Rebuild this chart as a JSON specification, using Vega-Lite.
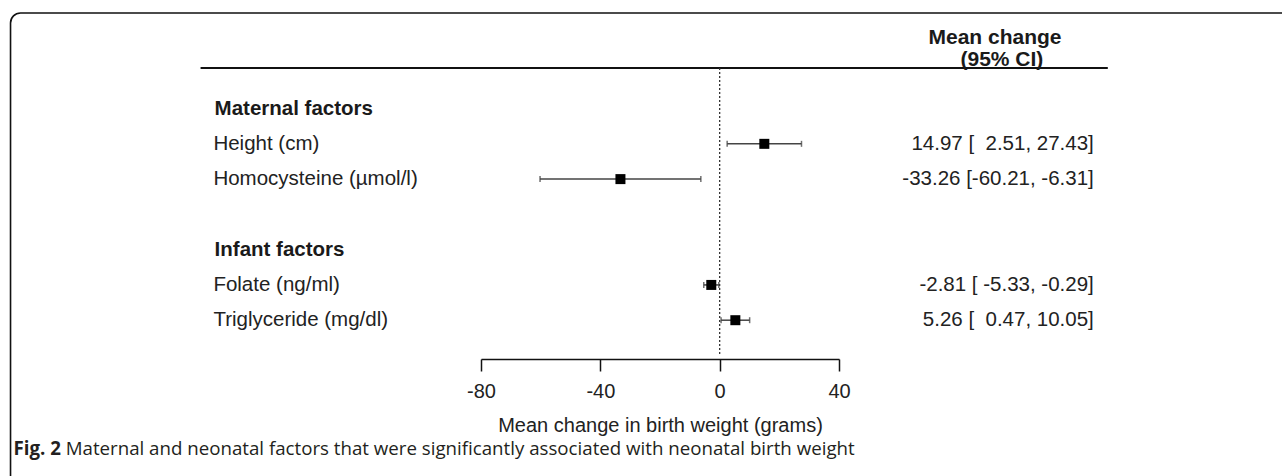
{
  "$schema": "https://vega.github.io/schema/vega-lite/v6.json",
  "autosize": {"type": "none"},
  "width": 358,
  "height": 291,
  "padding": {"left": 481, "top": 68, "right": 443, "bottom": 117},
  "background": "white",
  "config": {
    "view": {"stroke": null},
    "font": "Liberation Sans",
    "axisX": {"grid": false, "domain": true, "domainColor": "#111", "domainWidth": 1.5, "ticks": true, "tickColor": "#111", "tickWidth": 1.5, "tickSize": 12, "labelFlush": false, "labelOverlap": false, "labelFont": "Liberation Sans", "labelFontSize": 20, "labelColor": "#222", "labelPadding": 10, "titleFont": "Liberation Sans", "titleFontSize": 20, "titleFontWeight": "normal", "titleColor": "#222", "titlePadding": 14},
    "axisY": {"disable": true}
  },
  "datasets": {
    "rows": [
      {"row": 1, "label": "Maternal factors", "kind": "heading"},
      {"row": 2, "label": "Height (cm)", "kind": "item", "est": 14.97, "lo": 2.51, "hi": 27.43, "ci": "14.97 [\u00a0 2.51, 27.43]"},
      {"row": 3, "label": "Homocysteine (µmol/l)", "kind": "item", "est": -33.26, "lo": -60.21, "hi": -6.31, "ci": "-33.26 [-60.21, -6.31]"},
      {"row": 5, "label": "Infant factors", "kind": "heading"},
      {"row": 6, "label": "Folate (ng/ml)", "kind": "item", "est": -2.81, "lo": -5.33, "hi": -0.29, "ci": "-2.81 [ -5.33, -0.29]"},
      {"row": 7, "label": "Triglyceride (mg/dl)", "kind": "item", "est": 5.26, "lo": 0.47, "hi": 10.05, "ci": "5.26 [\u00a0 0.47, 10.05]"}
    ],
    "decor": [{"part": "frame"}]
  },
  "layer": [
    {
      "data": {"name": "decor"},
      "mark": {"type": "rect", "filled": false, "color": "#111", "strokeWidth": 1.6, "cornerRadius": 10, "clip": false},
      "encoding": {
        "x": {"datum": -237.7, "type": "quantitative", "scale": {"domain": [-80, 40], "nice": false, "zero": false}, "axis": {"values": [-80, -40, 0, 40], "labelExpr": "'' + datum.value", "title": "Mean change in birth weight (grams)"}},
        "x2": {"datum": 260},
        "y": {"datum": -1.709, "type": "quantitative", "scale": {"domain": [-0.15, 8.1], "nice": false, "zero": false, "reverse": true}},
        "y2": {"datum": 20}
      }
    },
    {
      "data": {"name": "decor"},
      "mark": {"type": "rule", "color": "#111", "strokeWidth": 1.8, "clip": false},
      "encoding": {
        "x": {"datum": -174, "type": "quantitative", "scale": {"domain": [-80, 40], "nice": false, "zero": false}, "axis": {"values": [-80, -40, 0, 40], "labelExpr": "'' + datum.value", "title": "Mean change in birth weight (grams)"}},
        "x2": {"datum": 130.1},
        "y": {"datum": -0.15, "type": "quantitative", "scale": {"domain": [-0.15, 8.1], "nice": false, "zero": false, "reverse": true}}
      }
    },
    {
      "data": {"name": "decor"},
      "mark": {"type": "rule", "color": "#333", "strokeWidth": 1.3, "strokeDash": [2, 2], "clip": false},
      "encoding": {
        "x": {"datum": 0, "type": "quantitative", "scale": {"domain": [-80, 40], "nice": false, "zero": false}, "axis": {"values": [-80, -40, 0, 40], "labelExpr": "'' + datum.value", "title": "Mean change in birth weight (grams)"}},
        "y": {"datum": -0.15, "type": "quantitative", "scale": {"domain": [-0.15, 8.1], "nice": false, "zero": false, "reverse": true}},
        "y2": {"datum": 7.98}
      }
    },
    {
      "data": {"name": "rows"},
      "transform": [{"filter": "datum.kind === 'item'"}],
      "mark": {"type": "errorbar", "color": "#444", "thickness": 1.5, "ticks": {"size": 6, "thickness": 1.5, "color": "#333"}, "clip": false},
      "encoding": {
        "x": {"field": "lo", "type": "quantitative", "scale": {"domain": [-80, 40], "nice": false, "zero": false}, "axis": {"values": [-80, -40, 0, 40], "labelExpr": "'' + datum.value", "title": "Mean change in birth weight (grams)"}},
        "x2": {"field": "hi"},
        "y": {"field": "row", "type": "quantitative", "scale": {"domain": [-0.15, 8.1], "nice": false, "zero": false, "reverse": true}}
      }
    },
    {
      "data": {"name": "rows"},
      "transform": [{"filter": "datum.kind === 'item'"}],
      "mark": {"type": "point", "shape": "square", "filled": true, "size": 100, "color": "#000", "opacity": 1, "clip": false},
      "encoding": {
        "x": {"field": "est", "type": "quantitative", "scale": {"domain": [-80, 40], "nice": false, "zero": false}, "axis": {"values": [-80, -40, 0, 40], "labelExpr": "'' + datum.value", "title": "Mean change in birth weight (grams)"}},
        "y": {"field": "row", "type": "quantitative", "scale": {"domain": [-0.15, 8.1], "nice": false, "zero": false, "reverse": true}}
      }
    },
    {
      "data": {"name": "rows"},
      "transform": [{"filter": "datum.kind === 'item'"}],
      "mark": {"type": "text", "align": "left", "baseline": "middle", "font": "Liberation Sans", "fontSize": 20.5, "color": "#222", "clip": false},
      "encoding": {
        "x": {"datum": -169.7, "type": "quantitative", "scale": {"domain": [-80, 40], "nice": false, "zero": false}, "axis": {"values": [-80, -40, 0, 40], "labelExpr": "'' + datum.value", "title": "Mean change in birth weight (grams)"}},
        "y": {"field": "row", "type": "quantitative", "scale": {"domain": [-0.15, 8.1], "nice": false, "zero": false, "reverse": true}},
        "text": {"field": "label"}
      }
    },
    {
      "data": {"name": "rows"},
      "transform": [{"filter": "datum.kind === 'heading'"}],
      "mark": {"type": "text", "align": "left", "baseline": "middle", "font": "Liberation Sans", "fontSize": 20.5, "fontWeight": "bold", "color": "#1a1a1a", "clip": false},
      "encoding": {
        "x": {"datum": -169.3, "type": "quantitative", "scale": {"domain": [-80, 40], "nice": false, "zero": false}, "axis": {"values": [-80, -40, 0, 40], "labelExpr": "'' + datum.value", "title": "Mean change in birth weight (grams)"}},
        "y": {"field": "row", "type": "quantitative", "scale": {"domain": [-0.15, 8.1], "nice": false, "zero": false, "reverse": true}},
        "text": {"field": "label"}
      }
    },
    {
      "data": {"name": "rows"},
      "transform": [{"filter": "datum.kind === 'item'"}],
      "mark": {"type": "text", "align": "right", "baseline": "middle", "font": "Liberation Sans", "fontSize": 20.5, "color": "#222", "clip": false},
      "encoding": {
        "x": {"datum": 125.4, "type": "quantitative", "scale": {"domain": [-80, 40], "nice": false, "zero": false}, "axis": {"values": [-80, -40, 0, 40], "labelExpr": "'' + datum.value", "title": "Mean change in birth weight (grams)"}},
        "y": {"field": "row", "type": "quantitative", "scale": {"domain": [-0.15, 8.1], "nice": false, "zero": false, "reverse": true}},
        "text": {"field": "ci"}
      }
    },
    {
      "data": {"name": "decor"},
      "mark": {"type": "text", "align": "center", "baseline": "middle", "font": "Liberation Sans", "fontSize": 21, "fontWeight": "bold", "color": "#1a1a1a", "clip": false},
      "encoding": {
        "x": {"datum": 92.3, "type": "quantitative", "scale": {"domain": [-80, 40], "nice": false, "zero": false}, "axis": {"values": [-80, -40, 0, 40], "labelExpr": "'' + datum.value", "title": "Mean change in birth weight (grams)"}},
        "y": {"datum": -1.0, "type": "quantitative", "scale": {"domain": [-0.15, 8.1], "nice": false, "zero": false, "reverse": true}},
        "text": {"value": "Mean change"}
      }
    },
    {
      "data": {"name": "decor"},
      "mark": {"type": "text", "align": "center", "baseline": "middle", "font": "Liberation Sans", "fontSize": 21, "fontWeight": "bold", "color": "#1a1a1a", "clip": false},
      "encoding": {
        "x": {"datum": 94.6, "type": "quantitative", "scale": {"domain": [-80, 40], "nice": false, "zero": false}, "axis": {"values": [-80, -40, 0, 40], "labelExpr": "'' + datum.value", "title": "Mean change in birth weight (grams)"}},
        "y": {"datum": -0.377, "type": "quantitative", "scale": {"domain": [-0.15, 8.1], "nice": false, "zero": false, "reverse": true}},
        "text": {"value": "(95% CI)"}
      }
    },
    {
      "data": {"name": "decor"},
      "mark": {"type": "text", "align": "left", "baseline": "middle", "font": "Open Sans", "fontSize": 18.7, "fontWeight": "bold", "color": "#231f20", "clip": false},
      "encoding": {
        "x": {"datum": -236.7, "type": "quantitative", "scale": {"domain": [-80, 40], "nice": false, "zero": false}, "axis": {"values": [-80, -40, 0, 40], "labelExpr": "'' + datum.value", "title": "Mean change in birth weight (grams)"}},
        "y": {"datum": 10.652, "type": "quantitative", "scale": {"domain": [-0.15, 8.1], "nice": false, "zero": false, "reverse": true}},
        "text": {"value": "Fig. 2"}
      }
    },
    {
      "data": {"name": "decor"},
      "mark": {"type": "text", "align": "left", "baseline": "middle", "font": "Open Sans", "fontSize": 18.7, "color": "#231f20", "clip": false},
      "encoding": {
        "x": {"datum": -219.2, "type": "quantitative", "scale": {"domain": [-80, 40], "nice": false, "zero": false}, "axis": {"values": [-80, -40, 0, 40], "labelExpr": "'' + datum.value", "title": "Mean change in birth weight (grams)"}},
        "y": {"datum": 10.652, "type": "quantitative", "scale": {"domain": [-0.15, 8.1], "nice": false, "zero": false, "reverse": true}},
        "text": {"value": "Maternal and neonatal factors that were significantly associated with neonatal birth weight"}
      }
    }
  ]
}
